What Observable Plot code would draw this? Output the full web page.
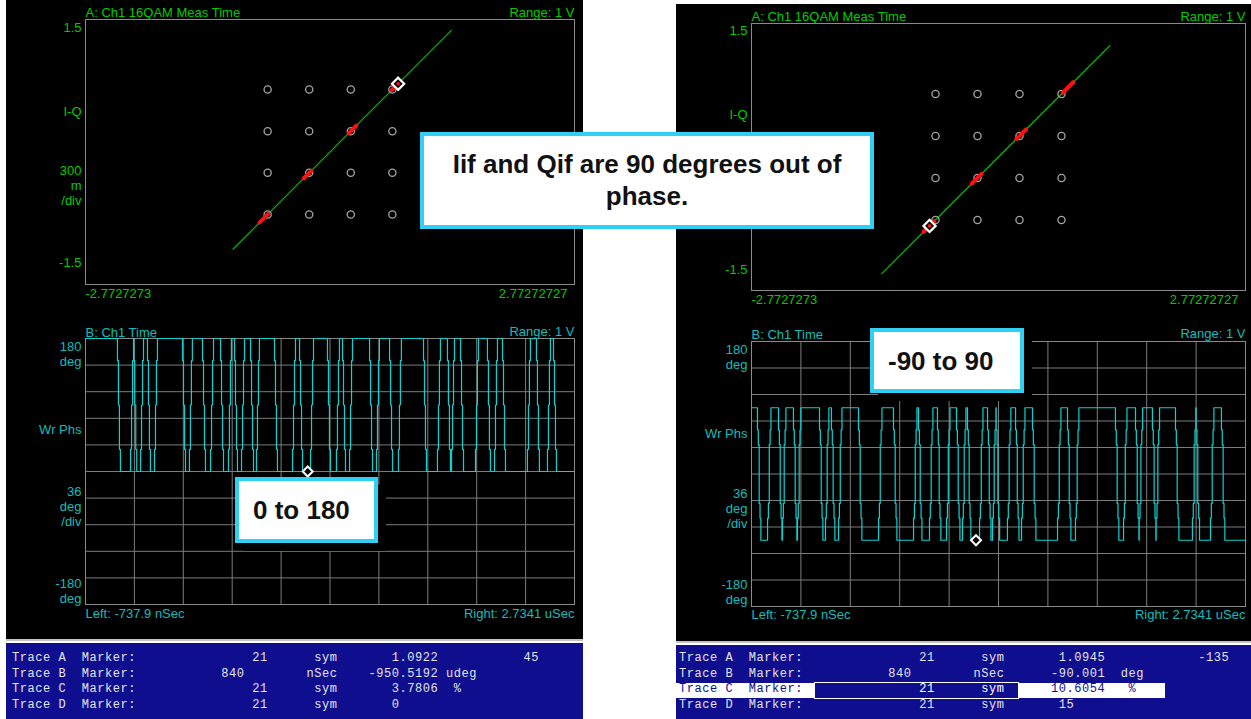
<!DOCTYPE html>
<html><head><meta charset="utf-8">
<script src="https://cdn.jsdelivr.net/npm/d3@7"></script>
<script src="https://cdn.jsdelivr.net/npm/@observablehq/plot@0.6"></script>
<style>
html,body{margin:0;padding:0;background:#fff;}
#page{position:relative;width:1251px;height:719px;overflow:hidden;background:#fff;}
.abs{position:absolute;}
.panel{position:absolute;background:#000;}
.bar{position:absolute;background:#0e0e8e;}
.sep{position:absolute;background:#c4c4c4;}
.row{position:absolute;font-family:"Liberation Mono","DejaVu Sans Mono",monospace;font-size:12px;letter-spacing:0.55px;color:#e4e4e4;white-space:pre;line-height:15px;}
.shadow{position:absolute;background:#000;}
.callout{position:absolute;box-sizing:border-box;background:#fff;border:4px solid #30d0f4;font-family:"Liberation Sans",Arial,sans-serif;font-weight:bold;font-size:26px;line-height:32px;color:#111;white-space:pre;}
.plot{position:absolute;}
</style></head><body><div id="page"></div>
<script>
// ---------------- data ----------------
const qamLevels = [-0.7071, -0.2357, 0.2357, 0.7071];      // 16QAM ideal I / Q levels
const xRangeIQ = [-2.7727273, 2.77272727];
const yRangeIQ = [-1.5, 1.5];
const diagL = [-1.10, 1.377];          // I = Q trajectory ends (left)
const diagR = [-1.31, 1.25];           // I = Q trajectory ends (right)
const redStartL = [-0.80, -0.30, 0.21, 0.70];
const redEndL   = [-0.70, -0.21, 0.30, 0.78];
const redStartR = [-0.84, -0.30, 0.20, 0.72];
const redEndR   = [-0.72, -0.19, 0.31, 0.84];
const markerMag = [1.0922, 1.0945];
const markerDeg = [45, -135];
const markerTime = 840;                 // nSec
const timeRange = [-737.9, 2734.1];     // nSec
const phaseRange = [-180, 180];
// wrapped-phase trace: alternating fall / rise times (nSec), starting high
const edgesL = [-511,-418,-397,-347,-298,-248,-49,0,93,150,221,277,320,370,434,476,604,732,782,860,
  980,1044,1087,1137,1279,1328,1421,1484,1662,1761,1832,1861,1925,2031,2116,2166,2223,2400,2464,2542,2585];
const edgesR = [-696,-625,-548,-520,-443,-415,-260,-218,-176,-126,14,155,260,401,436,513,569,633,703,745,
  780,865,921,956,977,1061,1118,1160,1237,1413,1483,1539,1820,1877,1961,1975,2080,2094,2242,2361,2376,2488,2565];
const kinksL = [180, 150, 90, 30, 0];          // phase samples visited during a transition (deg)
const kinksR = [90, 60, 40, -40, -60, -90];
const markerPhaseL = 0, markerPhaseR = -90;

const traceNames = ["Trace A", "Trace B", "Trace C", "Trace D"];
const markerVals = ["21", "840", "21", "21"];
const markerUnits = ["sym", "nSec", "sym", "sym"];
const readoutsL = ["1.0922", "-950.5192", "3.7806", "0"];
const readUnitsL = ["", "udeg", "%", ""];
const extraL = ["45", "", "", ""];
const readoutsR = ["1.0945", "-90.001", "10.6054", "15"];
const readUnitsR = ["", "deg", "%", ""];
const extraR = ["-135", "", "", ""];

// ---------------- styling ----------------
const FONT = '"Liberation Sans",Arial,sans-serif';
const GREEN = "#00cc00", TEAL = "#14bcbc", TRACE = "#0cd2d2", GRID = "#7c7c7c", FRAME = "#8a8a8a";
const page = document.getElementById("page");
function div(cls, x, y, w, h, html) {
  const d = document.createElement("div");
  d.className = cls;
  Object.assign(d.style, {left: x + "px", top: y + "px"});
  if (w != null) d.style.width = w + "px";
  if (h != null) d.style.height = h + "px";
  if (html != null) d.textContent = html;
  page.appendChild(d);
  return d;
}
function place(el, x, y) { el.classList.add("plot"); el.style.left = x + "px"; el.style.top = y + "px"; page.appendChild(el); }

// backgrounds
div("panel", 6, 0, 577, 640);
div("sep", 6, 639, 577, 2);
div("bar", 6, 643, 577, 76);
div("panel", 676, 4, 575, 638);
div("sep", 676, 641, 575, 2);
div("bar", 676, 645, 575, 74);

const baseStyle = {background: "transparent", fontFamily: FONT, fontSize: "13px", overflow: "visible"};

function constellation({width, height, ml, mt, mr, mb, diag, redStart, redEnd, mag, deg, yLab, showDiv}) {
  const pts = qamLevels.flatMap(i => qamLevels.map(q => ({i, q})));
  const a = deg * Math.PI / 180;
  const marker = {i: mag * Math.cos(a), q: mag * Math.sin(a)};
  const segs = redStart.map((s, k) => ({s, e: redEnd[k]}));
  return Plot.plot({
    width, height, marginLeft: ml, marginTop: mt, marginRight: mr, marginBottom: mb,
    x: {domain: xRangeIQ, axis: null}, y: {domain: yRangeIQ, axis: null},
    style: {...baseStyle, color: GREEN},
    marks: [
      Plot.frame({stroke: FRAME}),
      Plot.line(diag.map(v => ({i: v, q: v})), {x: "i", y: "q", stroke: "#00b400", strokeWidth: 1.3}),
      Plot.dot(pts, {x: "i", y: "q", r: 3.6, stroke: "#a4a4a4", strokeWidth: 1.3, fill: "none"}),
      Plot.link(segs, {x1: "s", y1: "s", x2: "e", y2: "e", stroke: "#ff1010", strokeWidth: 4, strokeLinecap: "round"}),
      Plot.dot([marker], {x: "i", y: "q", symbol: "diamond2", r: 5.5, stroke: "#fff", strokeWidth: 2.2, fill: "#000"}),
      Plot.dot([marker], {x: "i", y: "q", r: 1.8, fill: "#ff1010"}),
      Plot.axisY([yRangeIQ[1]], {label: null, tickSize: 0, tickPadding: 4, dy: yLab.top, fill: GREEN, tickFormat: d => String(d)}),
      Plot.axisY([yRangeIQ[0]], {label: null, tickSize: 0, tickPadding: 4, dy: yLab.bot, fill: GREEN, tickFormat: d => String(d)}),
      Plot.axisX([xRangeIQ[0]], {label: null, tickSize: 0, tickPadding: yLab.xpad, textAnchor: "start", fill: GREEN, tickFormat: d => String(d)}),
      Plot.axisX([xRangeIQ[1]], {label: null, tickSize: 0, tickPadding: yLab.xpad, textAnchor: "end", dx: -7, fill: GREEN, tickFormat: d => String(d)}),
      Plot.text(["I-Q"], {frameAnchor: "top-left", textAnchor: "end", dx: -4, dy: yLab.iq, fill: GREEN}),
      showDiv ? Plot.text(["300\nm\n/div"], {frameAnchor: "top-left", textAnchor: "end", lineAnchor: "top", dx: -4, dy: yLab.div, lineHeight: 15 / 13, fill: GREEN}) : null,
      Plot.text(["A: Ch1 16QAM Meas Time"], {frameAnchor: "top-left", textAnchor: "start", lineAnchor: "bottom", dy: -3, fill: GREEN}),
      Plot.text(["Range: 1 V"], {frameAnchor: "top-right", textAnchor: "end", lineAnchor: "bottom", dy: -3, fill: GREEN})
    ]
  });
}

function buildTrace(edges, kinks, step) {
  const hi = kinks[0], lo = kinks[kinks.length - 1];
  const pts = [{t: timeRange[0], p: hi}];
  let high = true, last = timeRange[0];
  for (const e of edges) {
    const seq = high ? kinks : [...kinks].reverse();
    let t = Math.max(e, last);
    pts.push({t, p: seq[0]});
    for (let k = 1; k < seq.length; k++) {
      if (k > 1) { t += step; pts.push({t, p: seq[k - 1]}); }
      pts.push({t, p: seq[k]});
    }
    last = t + 2;
    high = !high;
  }
  pts.push({t: timeRange[1], p: high ? hi : lo});
  return pts;
}

function phasePlot({width, height, ml, mt, mr, mb, edges, kinks, step, markerPhase, lab}) {
  const xGrid = d3.range(11).map(k => timeRange[0] + k * (timeRange[1] - timeRange[0]) / 10);
  const yGrid = d3.range(phaseRange[0], phaseRange[1] + 1, 36);
  const trace = buildTrace(edges, kinks, step);
  return Plot.plot({
    width, height, marginLeft: ml, marginTop: mt, marginRight: mr, marginBottom: mb,
    x: {domain: timeRange, axis: null}, y: {domain: phaseRange, axis: null},
    style: {...baseStyle, color: TEAL},
    marks: [
      Plot.ruleX(xGrid, {stroke: GRID, strokeWidth: 1}),
      Plot.ruleY(yGrid, {stroke: GRID, strokeWidth: 1}),
      Plot.frame({stroke: FRAME}),
      Plot.line(trace, {x: "t", y: "p", stroke: TRACE, strokeWidth: 1.2}),
      Plot.dot([{t: markerTime, p: markerPhase}], {x: "t", y: "p", symbol: "diamond2", r: 4.5, stroke: "#fff", strokeWidth: 2, fill: "#000"}),
      Plot.axisY([phaseRange[1]], {label: null, tickSize: 0, tickPadding: 4, dy: lab.top, lineHeight: 15 / 13, fill: TEAL, tickFormat: d => `${d}\ndeg`}),
      Plot.axisY([phaseRange[0]], {label: null, tickSize: 0, tickPadding: 4, dy: lab.bot, lineHeight: 15 / 13, fill: TEAL, tickFormat: d => `${d}\ndeg`}),
      Plot.axisX([timeRange[0]], {label: null, tickSize: 0, tickPadding: lab.xpad, textAnchor: "start", fill: TEAL, tickFormat: d => `Left: ${d} nSec`}),
      Plot.axisX([timeRange[1]], {label: null, tickSize: 0, tickPadding: lab.xpad, textAnchor: "end", fill: TEAL, tickFormat: d => `Right: ${(d / 1000).toFixed(4)} uSec`}),
      Plot.text(["Wr Phs"], {frameAnchor: "top-left", textAnchor: "end", dx: -4, dy: lab.wr, fill: TEAL}),
      Plot.text(["36\ndeg\n/div"], {frameAnchor: "top-left", textAnchor: "end", lineAnchor: "top", dx: -4, dy: lab.div, lineHeight: 15 / 13, fill: TEAL}),
      Plot.text(["B: Ch1 Time"], {frameAnchor: "top-left", textAnchor: "start", lineAnchor: "bottom", dy: lab.title, fill: TEAL}),
      Plot.text(["Range: 1 V"], {frameAnchor: "top-right", textAnchor: "end", lineAnchor: "bottom", dy: lab.title - 1, fill: TEAL})
    ]
  });
}

// left screen
place(constellation({width: 577, height: 310, ml: 79, mt: 19, mr: 9, mb: 26, diag: diagL, redStart: redStartL, redEnd: redEndL,
  mag: markerMag[0], deg: markerDeg[0], showDiv: true, yLab: {top: 8.8, bot: -21.2, iq: 86.8, div: 144.8, xpad: 4}}), 6, 0);
place(phasePlot({width: 577, height: 328, ml: 79, mt: 28, mr: 9, mb: 34, edges: edgesL, kinks: kinksL, step: 7,
  markerPhase: markerPhaseL, lab: {top: 15.3, bot: -13.7, wr: 85.8, div: 146.8, xpad: 4.6, title: -2}}), 6, 310);
// right screen (its "300 m /div" label lies under the callout)
place(constellation({width: 575, height: 306, ml: 75, mt: 19, mr: 6, mb: 20, diag: diagR, redStart: redStartR, redEnd: redEndR,
  mag: markerMag[1], deg: markerDeg[1], showDiv: false, yLab: {top: 7.8, bot: -20.2, iq: 85.8, div: 144.8, xpad: 4.6}}), 676, 4);
place(phasePlot({width: 575, height: 330, ml: 75, mt: 31, mr: 6, mb: 34, edges: edgesR, kinks: kinksR, step: 6,
  markerPhase: markerPhaseR, lab: {top: 15.3, bot: -14.7, wr: 86.8, div: 145.8, xpad: 3.6, title: -3}}), 676, 310);

// readout bars
function place_cols(cols) { // cols: [[col, text], ...] -> monospace string
  let s = "";
  for (const [c, t] of cols) { if (!t) continue; s = s.padEnd(c, " ") + t; }
  return s;
}
function readout(x0, y0, readouts, units, extra, rcol, ucol, ecol) {
  traceNames.forEach((n, k) => {
    const cols = [[0, n], [9, "Marker:"], [markerVals[k].length === 3 ? 27 : 31, markerVals[k]],
      [markerUnits[k] === "nSec" ? 38 : 39, markerUnits[k]], [rcol(readouts[k]), readouts[k]], [ucol(units[k]), units[k]], [ecol, extra[k]]];
    div("row", x0, y0 + k * 15.6, null, null, place_cols(cols));
  });
}
readout(12, 651, readoutsL, readUnitsL, extraL, r => r.length > 6 ? 46 : 49, u => u === "%" ? 57 : 56, 66);
// highlight row C (right)
div("abs", 676, 683, 489, 15).style.background = "#fff";
const inner = div("abs", 815, 683, 203, 15); inner.style.background = "#0e0e8e"; inner.style.outline = "1px solid #fff";
readout(679, 651, readoutsR, readUnitsR, extraR, r => r.length > 6 ? 48 : 49, u => u === "%" ? 58 : 57, 67);
// recolor row C text on white
const rowsR = [...page.querySelectorAll(".row")].slice(4);
{
  const r = rowsR[2];
  const txt = r.textContent;
  r.textContent = "";
  const a = document.createElement("span"); a.textContent = txt.slice(0, 18); a.style.color = "#0e0e8e";
  const b = document.createElement("span"); b.textContent = txt.slice(18, 44); b.style.color = "#fff";
  const c = document.createElement("span"); c.textContent = txt.slice(44); c.style.color = "#0e0e8e";
  r.append(a, b, c);
}

// callouts
div("callout", 420, 132, 454, 97, "Iif and Qif are 90 degrees out of\nphase.").style.cssText += "text-align:center;padding-top:12px;";
div("shadow", 243, 485, 143, 66);
div("callout", 235, 477, 143, 66, "0 to 180").style.cssText += "padding:13px 0 0 14px;";
div("shadow", 878, 336, 154, 65);
div("callout", 870, 328, 154, 65, "-90 to 90").style.cssText += "padding:13px 0 0 14px;";
</script></body></html>
